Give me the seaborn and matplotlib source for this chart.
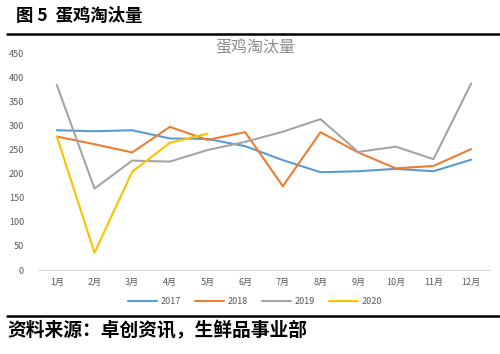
import numpy as np
import pandas as pd
import matplotlib
matplotlib.use("Agg")
import matplotlib.pyplot as plt
import seaborn as sns
from matplotlib.lines import Line2D

# Monthly layer-hen culling volume
months = ["1月", "2月", "3月", "4月", "5月", "6月", "7月", "8月", "9月", "10月", "11月", "12月"]
v2017 = [290, 288, 290, 273, 272, 257, 228, 203, 205, 210, 205, 229]
v2018 = [277, 261, 244, 297, 270, 286, 174, 286, 244, 211, 216, 251]
v2019 = [384, 169, 227, 225, 249, 266, 287, 313, 245, 256, 230, 387]
v2020 = [277, 36, 204, 264, 283]
years = ["2017", "2018", "2019", "2020"]
colors = ["#5B9BD5", "#ED7D31", "#A5A5A5", "#FFC000"]

rows = []
for yr, vals in zip(years, [v2017, v2018, v2019, v2020]):
    for m, v in zip(months, vals):
        rows.append({"month": m, "idx": months.index(m), "year": yr, "value": v})
df = pd.DataFrame(rows)

sns.set_theme(style="white")
plt.rcParams["font.family"] = ["Noto Sans CJK SC", "DejaVu Sans"]

fig = plt.figure(figsize=(5.0, 3.54), dpi=100)
ax = fig.add_axes([0.076, 0.237, 0.904, 0.613])

sns.lineplot(data=df, x="idx", y="value", hue="year", palette=colors,
             linewidth=1.5, ax=ax, legend=False)

ax.set_xlim(-0.5, 11.5)
ax.set_ylim(0, 450)
ax.set_yticks(np.arange(0, 451, 50))
ax.set_xticks(range(12))
ax.set_xticklabels(months)
ax.tick_params(axis="both", length=0, labelsize=6.5, colors="#595959")
ax.tick_params(axis="y", pad=10)
ax.tick_params(axis="x", pad=6)
ax.set_xlabel("")
ax.set_ylabel("")
for s in ["top", "right", "left"]:
    ax.spines[s].set_visible(False)
ax.spines["bottom"].set_color("#D9D9D9")
ax.spines["bottom"].set_linewidth(0.8)

handles = [Line2D([0], [0], color=c, lw=1.5) for c in colors]
fig.legend(handles, years, loc="center", bbox_to_anchor=(0.51, 0.147), ncol=4,
           frameon=False, fontsize=6.5, handlelength=3.2, columnspacing=1.6,
           handletextpad=0.4, labelcolor="#595959")

fig.text(0.51, 0.865, "蛋鸡淘汰量", ha="center", va="center", fontsize=11.5,
         color="#8C8C8C")

# report header / footer
fig.text(0.032, 0.955, "图 5  蛋鸡淘汰量", ha="left", va="center", fontsize=12.5,
         fontweight="bold", color="black")
fig.add_artist(Line2D([0.014, 1.0], [0.905, 0.905], color="black", lw=1.8,
                      transform=fig.transFigure))
fig.add_artist(Line2D([0.014, 1.0], [0.107, 0.107], color="black", lw=1.8,
                      transform=fig.transFigure))
fig.text(0.014, 0.066, "资料来源：卓创资讯，生鲜品事业部", ha="left", va="center",
         fontsize=13.5, fontweight="bold", color="black")

fig.savefig("out.png", dpi=100)
